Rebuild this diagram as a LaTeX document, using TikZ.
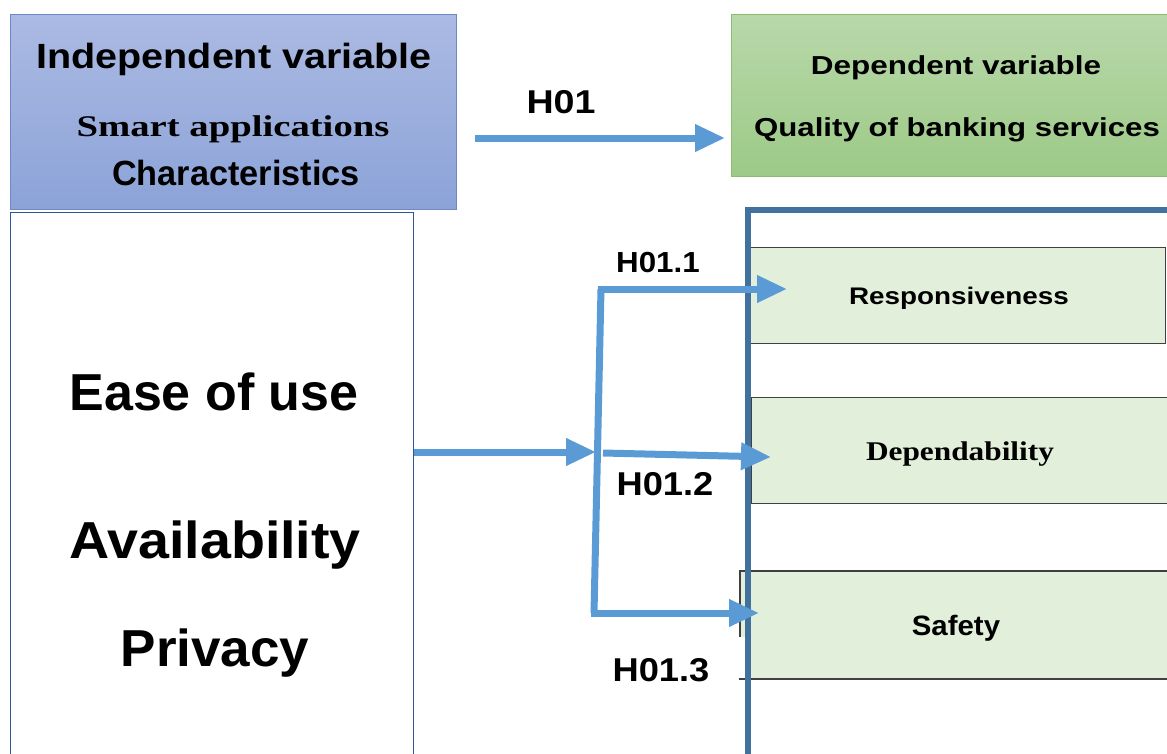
\documentclass[tikz,border=0pt]{standalone}
\usepackage{fontspec}
\setmainfont{Liberation Sans}
\newfontfamily\serifb{Liberation Serif}
\usetikzlibrary{arrows.meta}
\definecolor{arrowblue}{HTML}{5B9BD5}
\definecolor{frameblue}{HTML}{41719C}
\definecolor{boxgreen}{HTML}{E2EFDA}
\definecolor{ivtop}{HTML}{ABBAE3}
\definecolor{ivbot}{HTML}{8CA3D8}
\definecolor{ivline}{HTML}{6F87C4}
\definecolor{dvtop}{HTML}{B8D8AA}
\definecolor{dvbot}{HTML}{9DCA87}
\definecolor{dvline}{HTML}{8CBD6E}
\definecolor{leftline}{HTML}{2F5597}
\tikzset{
  lbl/.style={anchor=base, inner sep=0pt, font=\bfseries},
  barrow/.style={draw=arrowblue, line width=7pt, -{Triangle[length=30pt,width=26pt]}},
  bline/.style={draw=arrowblue, line width=7pt},
  dimbox/.style={draw=black!75, line width=1.2pt, fill=boxgreen, inner sep=0pt, anchor=north west},
}
% size, horizontal stretch
\newcommand{\fs}[2]{\fontsize{#1}{#1}\selectfont\addfontfeature{FakeStretch=#2}}
\begin{document}
\begin{tikzpicture}[x=1pt,y=-1pt]
\useasboundingbox (0,0) rectangle (1167,753);
\clip (0,0) rectangle (1167,753);
% independent variable box
\node[draw=ivline, line width=1pt, top color=ivtop, bottom color=ivbot, minimum width=446pt, minimum height=195pt, inner sep=0pt, anchor=north west] (ivbox) at (10,14) {};
\node[lbl] (t1) at (234,68) {\fs{35}{1.13}Independent variable};
\node[lbl] (t2) at (233,136) {\serifb\bfseries\fs{30}{1.29}Smart applications};
\node[lbl] (t3) at (236,185) {\fs{35}{0.98}Characteristics};
% dependent variable box
\node[draw=dvline, line width=1pt, top color=dvtop, bottom color=dvbot, minimum width=450pt, minimum height=162pt, inner sep=0pt, anchor=north west] (dvbox) at (731,14) {};
\node[lbl] (t4) at (956,74) {\fs{26}{1.21}Dependent variable};
\node[lbl] (t5) at (957,136) {\fs{26}{1.2}Quality of banking services};
% H01
\node[lbl] (h0) at (561,113) {\fs{33}{1.14}H01};
\coordinate (a0s) at (475,138);
\coordinate (a0e) at (725,138);
\draw[barrow] (a0s) -- (a0e);
% left box
\node[draw=leftline, line width=1pt, fill=white, minimum width=403pt, minimum height=600pt, inner sep=0pt, anchor=north west] (left) at (10,212) {};
\node[lbl] (e1) at (214,410) {\fs{52}{1.0}Ease of use};
\node[lbl] (e2) at (215,558) {\fs{52}{1.07}Availability};
\node[lbl] (e3) at (215,666) {\fs{52}{1.02}Privacy};
% right side boxes
\node[dimbox, minimum width=417pt, minimum height=96pt] (resp) at (748,247) {};
\node[dimbox, minimum width=430pt, minimum height=106pt] (dep) at (751,397) {};
\fill[boxgreen] (740,571) rectangle (1180,679);
\fill[white] (739,637) rectangle (746,680);
\draw[black!75, line width=1.2pt] (740,637) -- (740,571) -- (1180,571);
\draw[black!75, line width=1.2pt] (739,679) -- (1180,679);
\node[lbl] (r1) at (959,304) {\fs{24}{1.16}Responsiveness};
\node[lbl] (r2) at (960,460) {\serifb\bfseries\fs{27}{1.16}Dependability};
\node[lbl] (r3) at (956,635) {\fs{28}{1.05}Safety};
% frame
\draw[frameblue, line width=6pt] (748,800) -- (748,210) -- (1200,210);
% hypothesis labels
\node[lbl] (h1) at (658,272) {\fs{29}{1.08}H01.1};
\node[lbl] (h2) at (665,495) {\fs{33}{1.1}H01.2};
\node[lbl] (h3) at (661,681) {\fs{33}{1.1}H01.3};
% connectors
\coordinate (jin) at (596,452);
\coordinate (vt) at (601,289);
\coordinate (vm) at (603,453);
\coordinate (vb) at (594,613);
\coordinate (tip1) at (787,289);
\coordinate (tip2) at (771,457);
\coordinate (tip3) at (759,613);
\draw[barrow] (left.east |- jin) -- (jin);
\draw[bline] (vt) -- (vb);
\draw[barrow] ([xshift=-3.5pt]vt) -- (tip1);
\draw[barrow] (vm) -- (tip2);
\draw[barrow] ([xshift=-3.5pt]vb) -- (tip3);
\end{tikzpicture}
\end{document}
